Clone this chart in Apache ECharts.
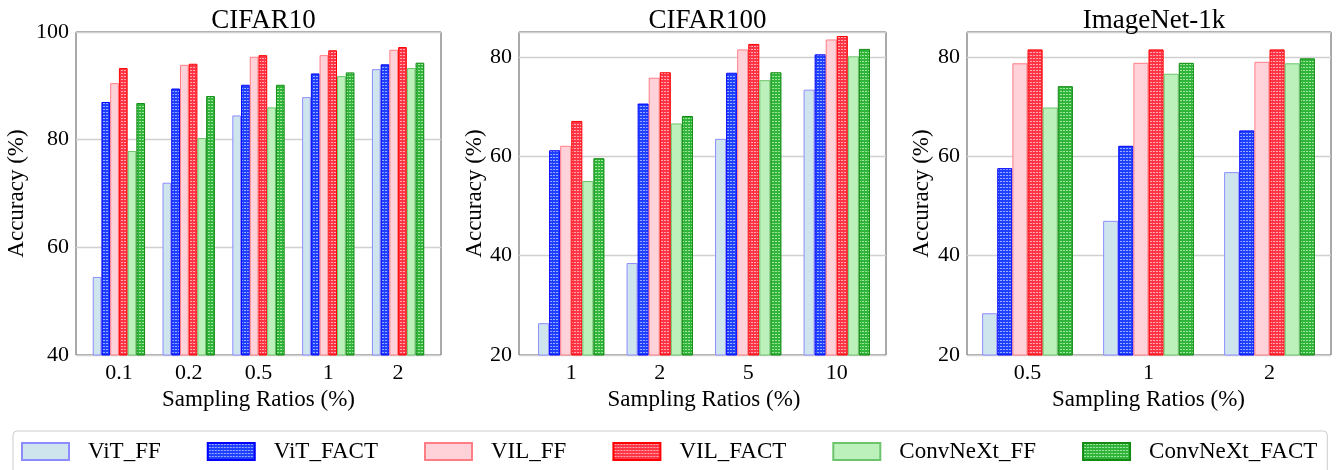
<!DOCTYPE html>
<html>
<head>
<meta charset="utf-8">
<script src="https://cdn.jsdelivr.net/npm/echarts@6/dist/echarts.min.js"></script>
<style>
  html, body { margin: 0; padding: 0; background: #fff; }
  #chart { width: 1343px; height: 470px; }
</style>
</head>
<body>
<div id="chart"></div>
<script>
// methods, same order in every dataset array below
const methods = ['ViT_FF', 'ViT_FACT', 'VIL_FF', 'VIL_FACT', 'ConvNeXt_FF', 'ConvNeXt_FACT'];

const datasetNames = ['CIFAR10', 'CIFAR100', 'ImageNet-1k'];

const cifar10Ratios = ['0.1', '0.2', '0.5', '1', '2'];
const cifar10Acc = [
    [54.5, 72.0, 84.5, 87.9, 93.1],
    [87.0, 89.5, 90.2, 92.3, 94.0],
    [90.5, 93.9, 95.4, 95.7, 96.7],
    [93.3, 94.1, 95.7, 96.6, 97.2],
    [77.9, 80.3, 86.0, 91.8, 93.3],
    [86.8, 88.1, 90.2, 92.5, 94.3]
];

const cifar100Ratios = ['1', '2', '5', '10'];
const cifar100Acc = [
    [26.4, 38.5, 63.5, 73.4],
    [61.2, 70.6, 76.8, 80.5],
    [62.1, 75.8, 81.5, 83.5],
    [67.1, 76.9, 82.6, 84.2],
    [55.0, 66.6, 75.3, 80.1],
    [59.6, 68.1, 76.9, 81.6]
];

const imagenetRatios = ['0.5', '1', '2'];
const imagenetAcc = [
    [28.4, 47.0, 56.8],
    [57.6, 62.1, 65.2],
    [78.7, 78.8, 79.0],
    [81.5, 81.5, 81.5],
    [69.8, 76.6, 78.7],
    [74.1, 78.8, 79.7]
];

const yMins = [40, 20, 20];
const yMaxs = [100, 85, 85];

const FONT = 'Liberation Serif';

// dotted hatch like matplotlib '...'
function dots(base, dot) {
    const c = document.createElement('canvas');
    c.width = 3;
    c.height = 3;
    const ctx = c.getContext('2d');
    ctx.fillStyle = base;
    ctx.fillRect(0, 0, 3, 3);
    ctx.fillStyle = dot;
    ctx.fillRect(1, 1, 2, 1);
    return { image: c, repeat: 'repeat' };
}

const styles = [
    { color: '#cfe5ee', borderColor: '#8c8cff' },
    { color: dots('#2040ff', '#98acff'), borderColor: '#0000ff' },
    { color: '#ffd2d9', borderColor: '#ff7d85' },
    { color: dots('#ff3444', '#ffa8b2'), borderColor: '#ff0000' },
    { color: '#bdf1bb', borderColor: '#6cc46c' },
    { color: dots('#30b43a', '#a0e6a0'), borderColor: '#138a13' }
];

// frame of each panel (border, y ticks, grid lines)
const frames = [
    { left: 76, top: 32, width: 365, height: 323 },
    { left: 519, top: 32, width: 367, height: 323 },
    { left: 967, top: 32, width: 364, height: 323 }
];
// bar area inside the frame (matplotlib x margins)
const inner = [
    { left: 84, top: 32, width: 349, height: 323 },
    { left: 527, top: 32, width: 354, height: 323 },
    { left: 967, top: 32, width: 363, height: 323 }
];
const nameGaps = [48, 33, 34];
const allRatios = [cifar10Ratios, cifar100Ratios, imagenetRatios];
const allAcc = [cifar10Acc, cifar100Acc, imagenetAcc];

const chart = echarts.init(document.getElementById('chart'));

const txt = (size) => ({ fontFamily: FONT, fontSize: size, color: '#000', fontWeight: 'normal' });

const option = {
    animation: false,
    textStyle: { fontFamily: FONT },
    title: frames.map((g, i) => ({
        text: datasetNames[i],
        left: g.left + g.width / 2,
        textAlign: 'center',
        top: 2,
        textStyle: txt(27)
    })),
    legend: {
        data: methods,
        left: 13,
        top: 431,
        padding: [9, 10, 20, 8],
        icon: 'rect',
        itemWidth: 47,
        itemHeight: 17,
        itemGap: 46,
        borderColor: '#cccccc',
        borderWidth: 1,
        borderRadius: 4,
        textStyle: Object.assign(txt(23), { padding: [0, 0, 0, 14] })
    },
    grid: frames.map(g => Object.assign({ show: true, borderColor: '#555', borderWidth: 1 }, g))
        .concat(inner.map(g => Object.assign({ show: false }, g))),
    xAxis: [],
    yAxis: [],
    series: []
};

frames.forEach((g, i) => {
    option.xAxis.push({ type: 'value', gridIndex: i, show: false });
    option.yAxis.push({
        type: 'value',
        gridIndex: i,
        min: yMins[i],
        max: yMaxs[i],
        interval: 20,
        name: 'Accuracy (%)',
        nameLocation: 'middle',
        nameGap: nameGaps[i],
        nameTextStyle: txt(23),
        axisLine: { show: false },
        axisTick: { show: false },
        axisLabel: Object.assign(txt(22), { margin: 7, showMaxLabel: i === 0 }),
        splitLine: { lineStyle: { color: '#d0d0d0', width: 1.3 } }
    });
});

inner.forEach((g, i) => {
    option.xAxis.push({
        type: 'category',
        gridIndex: 3 + i,
        data: allRatios[i],
        name: 'Sampling Ratios (%)',
        nameLocation: 'middle',
        nameGap: 32,
        nameTextStyle: txt(23),
        axisLine: { show: false },
        axisTick: { show: false },
        axisLabel: Object.assign(txt(22), { margin: 7 })
    });
    option.yAxis.push({
        type: 'value',
        gridIndex: 3 + i,
        min: yMins[i],
        max: yMaxs[i],
        show: false
    });
});

allAcc.forEach((acc, gi) => {
    methods.forEach((name, mi) => {
        option.series.push({
            type: 'bar',
            name: name,
            xAxisIndex: 3 + gi,
            yAxisIndex: 3 + gi,
            data: acc[mi],
            barWidth: '12.5%',
            barGap: '0%',
            itemStyle: Object.assign({ borderWidth: 1 }, styles[mi])
        });
    });
});

chart.setOption(option);
</script>
</body>
</html>
